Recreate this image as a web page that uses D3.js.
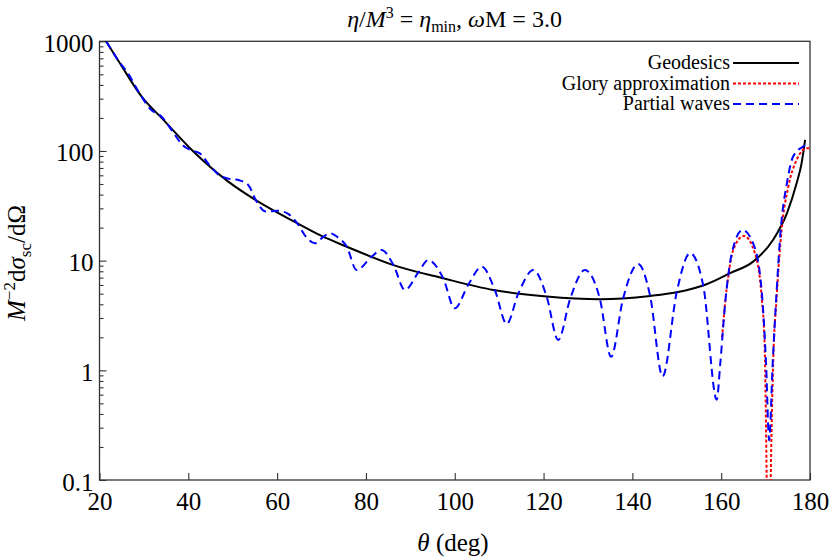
<!DOCTYPE html>
<html><head><meta charset="utf-8">
<script src="https://cdn.jsdelivr.net/npm/d3@7"></script>
<style>
body{margin:0;background:#fff;}
svg text{font-family:"Liberation Serif","Times New Roman",serif;fill:#000;}
</style></head>
<body><svg id="c" width="830" height="560"></svg>
<script>
// ---- data ----
const geoTheta = [20,21.5,24.6,29.5,34.4,40.8,49,55,64.2,70,75.7,86.2,97.4,108.7,120.7,132.7,144,150,156.7,162,167.2,171.7,174.8,177,178.1,178.9];
const geoValue = [1260,1000,630,313,192,102,52.5,36,22.3,16.8,13.4,9.1,6.9,5.4,4.7,4.45,4.77,5.15,6.1,7.7,9.8,15.5,27,51,77,126];

const pwTheta = [20,21.5,24,26.5,29,31.5,34,36.5,38.8,40.8,42.6,44.9,47,49,51.5,53.5,55.3,57.5,60,62.3,64.5,66.5,68.5,70.4,71.9,73.5,75.7,77.9,81.3,83.5,86.2,88.8,91.8,94,97.4,100,103.1,106.1,109.1,111.7,114.3,117.7,120.7,123.3,126,129.3,132.7,135.2,137.9,141.3,144,146.8,150,153,156,159,159.8,160.9,162.4,164.8,167.2,169.1,170.1,170.8,171.6,172.5,173.4,174.8,176.2,178.5,180];
const pwValue = [1250,1000,690,505,336,240,205,150,112,101,95,73,60,56,54,49,35,28,28.5,27,22,16.5,14.4,16.5,17.8,16.5,13.4,8.2,10.9,12.5,9.1,5.4,7.8,10.1,6.9,3.68,6.1,8.8,5.3,2.65,5.0,8.2,4.7,1.89,4.5,8.2,4.45,1.33,4.5,9.3,4.77,0.88,5.2,11.7,5.8,0.54,1.16,4.1,11.7,19,14.4,5.4,1.16,0.23,1.16,5.4,19,51,89,110,115];

const gloryTheta = [160.2,160.9,161.6,162.7,165.1,167.6,169.1,169.8,170.25,170.7,171.15,171.7,172.5,173.6,175.1,177,179.3,180];
const gloryValue = [2.0,4.2,7.2,12.5,16.8,11.7,4.7,1.6,0.1,0.004,0.1,1.16,4.7,19,47,83,106,106];

const xTicks = [20,40,60,80,100,120,140,160,180];
const yTicks = [0.1,1,10,100,1000];
const legendLabels = ["Geodesics","Glory approximation","Partial waves"];

// ---- layout ----
const svg = d3.select("#c");
const L=99.5, R=810, T=41.3, B=480;
const x = d3.scaleLinear().domain([20,180]).range([L,R]);
const y = d3.scaleLog().domain([0.1,1000]).range([B,T]);

svg.append("defs").append("clipPath").attr("id","clip")
  .append("rect").attr("x",L).attr("y",T).attr("width",R-L).attr("height",B-T);

// minor y ticks
const minor = [];
for (let d=0.1; d<1000; d*=10) for (let k=2;k<=9;k++) minor.push(+(d*k).toPrecision(3));
svg.append("g").attr("transform",`translate(${L},0)`)
  .call(d3.axisLeft(y).tickValues(minor).tickSizeInner(-4).tickSizeOuter(0).tickFormat(""))
  .call(g=>{g.select(".domain").remove(); g.selectAll("line").attr("stroke","#333").attr("stroke-width",1.1);});

// major y ticks
svg.append("g").attr("transform",`translate(${L},0)`)
  .call(d3.axisLeft(y).tickValues(yTicks).tickSizeInner(-7).tickSizeOuter(0).tickPadding(6)
        .tickFormat(d=>String(d)))
  .call(g=>{g.select(".domain").remove();
    g.selectAll("line").attr("stroke","#333").attr("stroke-width",1.1);
    g.selectAll("text").attr("font-size",25).attr("dy","0.4em").style("font-family","Liberation Serif");});

// x ticks
svg.append("g").attr("transform",`translate(0,${B})`)
  .call(d3.axisBottom(x).tickValues(xTicks).tickSizeInner(-7).tickSizeOuter(0).tickPadding(12)
        .tickFormat(d=>String(d)))
  .call(g=>{g.select(".domain").remove();
    g.selectAll("line").attr("stroke","#333").attr("stroke-width",1.1);
    g.selectAll("text").attr("font-size",25).attr("dy","0.71em").style("font-family","Liberation Serif");});

// frame
svg.append("rect").attr("x",L).attr("y",T).attr("width",R-L).attr("height",B-T)
  .attr("fill","none").attr("stroke","#333").attr("stroke-width",1.3);

// curves
function mk(th,vals){return th.map((t,i)=>[t,vals[i]]);}
const gp = svg.append("g").attr("clip-path","url(#clip)");
const lineGen = d3.line().x(d=>x(d[0])).y(d=>y(d[1])).curve(d3.curveMonotoneX);

gp.append("path").datum(mk(geoTheta,geoValue)).attr("d",lineGen)
  .attr("fill","none").attr("stroke","#000").attr("stroke-width",2);
gp.append("path").datum(mk(gloryTheta,gloryValue)).attr("d",lineGen)
  .attr("fill","none").attr("stroke","#ff0000").attr("stroke-width",2).attr("stroke-dasharray","3,2");
gp.append("path").datum(mk(pwTheta,pwValue)).attr("d",lineGen)
  .attr("fill","none").attr("stroke","#0000ff").attr("stroke-width",2).attr("stroke-dasharray","8,5");

// legend
const styles = [{c:"#000",dash:null},{c:"#ff0000",dash:"3,2"},{c:"#0000ff",dash:"8,5"}];
const lg = svg.append("g");
legendLabels.forEach((lab,i)=>{
  const yy = 63 + i*20.5;
  lg.append("text").attr("x",730).attr("y",yy).attr("dy","0.32em").attr("text-anchor","end")
    .attr("font-size",20).text(lab);
  const ln = lg.append("line").attr("x1",733).attr("x2",799).attr("y1",yy).attr("y2",yy)
    .attr("stroke",styles[i].c).attr("stroke-width",2);
  if (styles[i].dash) ln.attr("stroke-dasharray",styles[i].dash);
});

// title
const t = svg.append("text").attr("x",454.5).attr("y",27).attr("text-anchor","middle").attr("font-size",24);
t.append("tspan").attr("font-style","italic").text("η");
t.append("tspan").text("/");
t.append("tspan").attr("font-style","italic").text("M");
t.append("tspan").attr("font-size",16).attr("dy",-9).text("3");
t.append("tspan").attr("dy",9).text(" = ");
t.append("tspan").attr("font-style","italic").text("η");
t.append("tspan").attr("font-size",16).attr("dy",5).text("min");
t.append("tspan").attr("dy",-5).text(", ");
t.append("tspan").attr("font-style","italic").text("ω");
t.append("tspan").text("M = 3.0");

// x label
const xl = svg.append("text").attr("x",453).attr("y",551).attr("text-anchor","middle").attr("font-size",25);
xl.append("tspan").attr("font-style","italic").text("θ");
xl.append("tspan").text(" (deg)");

// y label
const yl = svg.append("text").attr("transform","translate(25,263) rotate(-90)").attr("text-anchor","middle").attr("font-size",25);
yl.append("tspan").attr("font-style","italic").text("M");
yl.append("tspan").attr("font-size",17).attr("dy",-10).text("−2");
yl.append("tspan").attr("dy",10).text("d");
yl.append("tspan").attr("font-style","italic").text("σ");
yl.append("tspan").attr("font-size",17).attr("dy",6).text("sc");
yl.append("tspan").attr("dy",-6).text("/dΩ");
</script></body></html>
